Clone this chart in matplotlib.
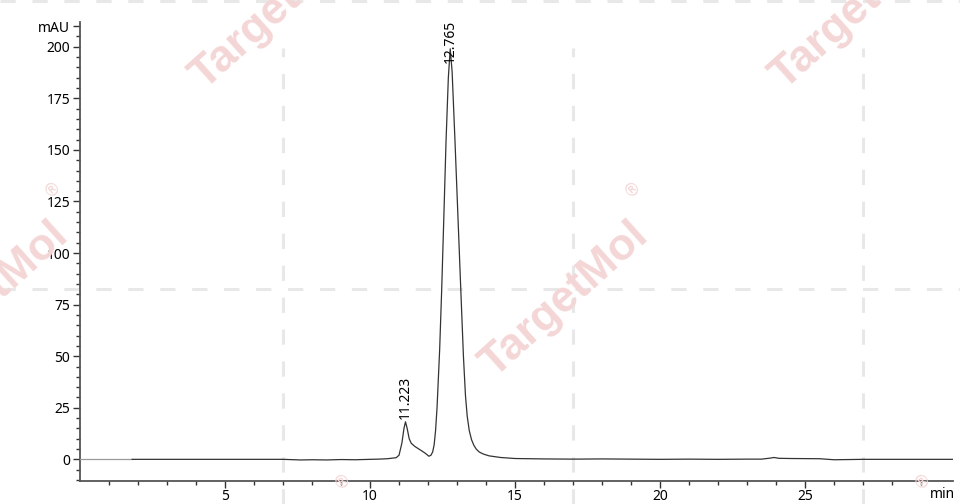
import matplotlib.pyplot as plt
import matplotlib.transforms as mtransforms
from matplotlib.lines import Line2D
import numpy as np

plt.rcParams['font.family'] = ['Noto Sans', 'DejaVu Sans']
plt.rcParams['lines.scale_dashes'] = False

# chromatogram trace (min, mAU)
time_min = [0.0, 1.8, 4.0, 6.0, 7.0, 7.6, 8.0, 8.5, 9.0, 9.5, 10.0, 10.3, 10.6, 10.9,
            11.0, 11.1, 11.17, 11.223, 11.28, 11.35, 11.42, 11.55, 11.75, 11.9, 12.03,
            12.1, 12.16, 12.21, 12.26, 12.31, 12.40, 12.47, 12.55, 12.62, 12.70, 12.765,
            12.83, 12.93, 13.03, 13.13, 13.22, 13.29, 13.35, 13.42, 13.50, 13.58, 13.66,
            13.76, 13.9, 14.1, 14.5, 15.0, 16.0, 17.0, 18.0, 19.0, 20.0, 21.0, 22.0,
            23.0, 23.5, 23.8, 23.93, 24.1, 24.5, 25.5, 26.0, 26.5, 27.0, 28.0, 30.1]
absorbance = [0.0, 0.0, 0.0, 0.0, 0.0, -0.3, -0.2, -0.3, -0.1, -0.2, 0.0, 0.1, 0.3, 0.8,
              2.0, 8.0, 15.0, 18.2, 15.0, 10.0, 7.8, 6.2, 4.4, 3.0, 1.5,
              2.0, 3.6, 7.0, 14.0, 25.0, 53.0, 82.0, 120.0, 154.0, 185.0, 199.0,
              188.0, 154.0, 118.0, 82.0, 50.0, 31.0, 21.0, 14.0, 9.5, 6.8, 5.0,
              3.6, 2.6, 1.7, 0.9, 0.4, 0.2, 0.1, 0.2, 0.1, 0.0, 0.1, 0.0,
              0.1, 0.1, 0.6, 0.9, 0.5, 0.4, 0.3, -0.2, -0.1, 0.0, 0.0, 0.0]

peak_times = [11.223, 12.765]
peak_labels = ['11.223', '12.765']
label_heights = [19.5, 192.0]

W, H = 960, 504
fig = plt.figure(figsize=(9.6, 5.04), dpi=100)
ax = fig.add_axes([80 / W, 23 / H, 873 / W, 459 / H])

# watermark grid lines (figure pixels)
grid_kw = dict(color='#e8e8e8', lw=2.2, dashes=(11, 12), zorder=0)
for xp in [283, 573, 863]:
    fig.add_artist(Line2D([xp / W, xp / W], [0, 1 - 48 / H], transform=fig.transFigure, **grid_kw))
for yp in [289, 1]:
    fig.add_artist(Line2D([0, 1], [1 - yp / H, 1 - yp / H], transform=fig.transFigure, **grid_kw))

# TargetMol watermarks
ang = 42
ux, uy = np.cos(np.radians(ang)), np.sin(np.radians(ang))
for cx, cy in [(565, 300), (-15, 300), (275, 12), (855, 12), (275, 592), (855, 592)]:
    fig.text(cx / W, 1 - cy / H, 'TargetMol', rotation=ang, rotation_mode='anchor',
             ha='center', va='center', fontsize=32, fontweight='bold',
             family='Liberation Sans', color='#f4d6d6', zorder=0)
    rx = cx + 125 * ux - 38 * uy
    ry = cy - 125 * uy - 38 * ux
    fig.text(rx / W, 1 - ry / H, '®', rotation=ang, ha='center', va='center',
             fontsize=12, family='DejaVu Sans', color='#f4d6d6', zorder=0)

ax.patch.set_alpha(0)
t = np.array(time_min)
a = np.array(absorbance)
ax.plot(t[:2], a[:2], color='#9a9a9a', lw=0.9, zorder=3)
ax.plot(t[1:], a[1:], color='#333333', lw=0.9, zorder=3)

for pt, lab, lh in zip(peak_times, peak_labels, label_heights):
    ax.text(pt, lh, lab, rotation=90, ha='center', va='bottom', fontsize=10, zorder=4)

ax.set_xlim(0, 30.1)
ax.set_ylim(-10.5, 212)

for side in ['top', 'right']:
    ax.spines[side].set_visible(False)
for side in ['left', 'bottom']:
    ax.spines[side].set_color('#555555')
    ax.spines[side].set_linewidth(1.3)

ax.set_xticks([5, 10, 15, 20, 25])
ax.set_xticks(np.arange(1, 30), minor=True)
ax.set_yticks([0, 25, 50, 75, 100, 125, 150, 175, 200, 210])
ax.set_yticklabels(['0', '25', '50', '75', '100', '125', '150', '175', '200', 'mAU'])
ax.set_yticks(np.arange(-10, 212, 5), minor=True)
ax.tick_params(which='major', length=5, width=1, color='#333333', labelsize=10, pad=2)
ax.tick_params(which='minor', length=3, width=1, color='#333333')
ax.tick_params(axis='x', pad=0.5)

ax.text(29.75, -0.012, 'min', transform=mtransforms.blended_transform_factory(ax.transData, ax.transAxes),
        ha='center', va='top', fontsize=10)

fig.savefig('out.png', dpi=100)
